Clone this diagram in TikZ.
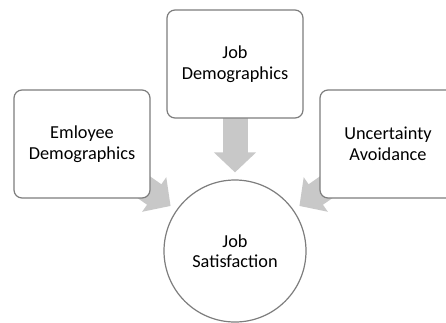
\documentclass[tikz,border=0pt]{standalone}
\usepackage{fontspec}
\setmainfont{Carlito}
\usetikzlibrary{positioning, arrows.meta, backgrounds}
\definecolor{framegray}{RGB}{125, 125, 125}
\definecolor{flowgray}{RGB}{200, 200, 200}
\tikzset{
  factor/.style={
    draw=framegray,
    line width=1.2pt,
    fill=white,
    rounded corners=8pt,
    minimum width=136pt,
    minimum height=108pt,
    align=center,
    font=\fontsize{18.3}{20.5}\selectfont
  },
  outcome/.style={
    circle,
    draw=framegray,
    line width=1.2pt,
    fill=white,
    minimum size=142pt,
    align=center,
    font=\fontsize{18.3}{20.5}\selectfont
  },
  influence/.style={
    draw=flowgray,
    line width=25pt,
    -{Triangle[width=41pt, length=20pt]},
    shorten >=7pt
  }
}
\begin{document}
\begin{tikzpicture}[x=1pt, y=-1pt]
  \useasboundingbox (0, 0) rectangle (446, 322);
  \node[factor] (employee) at (82, 144) {Emloyee\\Demographics};
  \node[factor] (jobdemo) at (235, 64) {Job\\Demographics};
  \node[factor] (uncert) at (388, 144) {Uncertainty\\Avoidance};
  \node[outcome] (satisf) at (235, 251) {Job\\Satisfaction};

  % wide grey arrows behind the boxes
  \begin{scope}[on background layer]
    \draw[influence] (employee.center) -- (satisf);
    \draw[influence] (jobdemo.center) -- (satisf);
    \draw[influence] (uncert.center) -- (satisf);
  \end{scope}
\end{tikzpicture}
\end{document}
